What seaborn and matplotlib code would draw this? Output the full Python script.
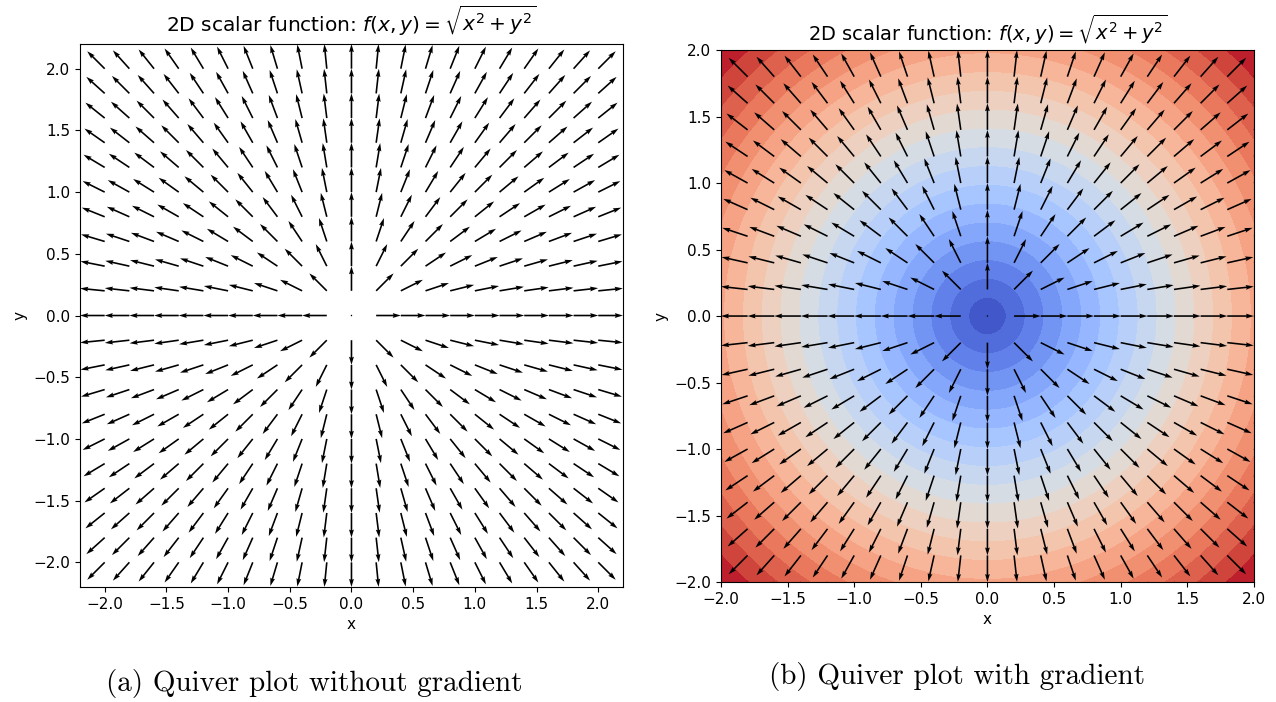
"""Quiver plots of the gradient of f(x, y) = sqrt(x^2 + y^2)."""

import matplotlib
matplotlib.use("Agg")
import matplotlib.pyplot as plt
import seaborn as sns
import numpy as np

sns.set_style("ticks")
plt.rcParams["font.family"] = ["DejaVu Sans"]
plt.rcParams["axes.edgecolor"] = "black"
plt.rcParams["text.color"] = "black"
plt.rcParams["xtick.color"] = "black"
plt.rcParams["ytick.color"] = "black"
plt.rcParams["axes.labelcolor"] = "black"

# arrow grid (21 points, step 0.2)
grid_x = [-2.0, -1.8, -1.6, -1.4, -1.2, -1.0, -0.8, -0.6, -0.4, -0.2, 0.0,
          0.2, 0.4, 0.6, 0.8, 1.0, 1.2, 1.4, 1.6, 1.8, 2.0]
grid_y = list(grid_x)

# contour levels of f (0 .. 2*sqrt(2))
levels = [0.0, 0.141, 0.283, 0.424, 0.566, 0.707, 0.849, 0.990, 1.131, 1.273,
          1.414, 1.556, 1.697, 1.838, 1.980, 2.121, 2.263, 2.404, 2.546, 2.687,
          2.829]

ticks = [-2.0, -1.5, -1.0, -0.5, 0.0, 0.5, 1.0, 1.5, 2.0]
title = r"2D scalar function: $f(x,y) = \sqrt{x^2 + y^2}$"
captions = ["(a) Quiver plot without gradient", "(b) Quiver plot with gradient"]


def f(x, y):
    return np.sqrt(x ** 2 + y ** 2)


X, Y = np.meshgrid(grid_x, grid_y)
R = f(X, Y)
safe_r = np.where(R > 0, R, 1.0)
U = np.where(R > 0, X / safe_r, 0.0)
V = np.where(R > 0, Y / safe_r, 0.0)

fine = np.linspace(-2, 2, 600)
FX, FY = np.meshgrid(fine, fine)
FZ = f(FX, FY)

fig = plt.figure(figsize=(12.76, 7.02), dpi=100)
ax1 = fig.add_axes([0.0627, 0.1638, 0.4255, 0.7735])
ax2 = fig.add_axes([0.5650, 0.1709, 0.4177, 0.7578])

quiver_kw = dict(angles="xy", scale_units="xy", scale=5, color="black",
                 width=0.003)

# (a) arrows only
ax1.quiver(X, Y, U, V, **quiver_kw)
ax1.set_xlim(-2.2, 2.2)
ax1.set_ylim(-2.2, 2.2)

# (b) arrows on top of filled contours
cmap = sns.color_palette("coolwarm", as_cmap=True)
ax2.contourf(FX, FY, FZ, levels=levels, cmap=cmap)
ax2.quiver(X, Y, U, V, **quiver_kw)
ax2.set_xlim(-2, 2)
ax2.set_ylim(-2, 2)

for ax, tsize, tpad in ((ax1, 14.5, 9), (ax2, 14, 6.5)):
    ax.set_xticks(ticks)
    ax.set_yticks(ticks)
    ax.tick_params(labelsize=11, length=3.5, width=0.8)
    ax.set_xlabel("x", fontsize=11)
    ax.set_ylabel("y", fontsize=11)
    ax.set_title(title, fontsize=tsize, pad=tpad)
    for sp in ax.spines.values():
        sp.set_linewidth(0.8)

fig.text(0.246, 0.027, captions[0], ha="center", va="center",
         family="cmr10", fontsize=21)
fig.text(0.750, 0.037, captions[1], ha="center", va="center",
         family="cmr10", fontsize=21)

fig.savefig("out.png", dpi=100)
plt.close(fig)
